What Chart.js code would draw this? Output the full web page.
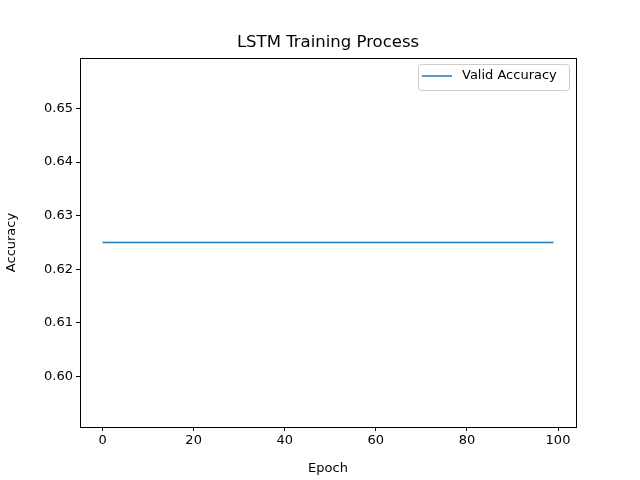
<!DOCTYPE html>
<html><head><script src="https://cdn.jsdelivr.net/npm/chart.js@4"></script>
<style>body{margin:0;background:#fff}</style></head>
<body><canvas id="c" width="640" height="480"></canvas>
<script>
// epochs 0..99
const epochs = [0,1,2,3,4,5,6,7,8,9,10,11,12,13,14,15,16,17,18,19,20,21,22,23,24,25,26,27,28,29,30,31,32,33,34,35,36,37,38,39,40,41,42,43,44,45,46,47,48,49,50,51,52,53,54,55,56,57,58,59,60,61,62,63,64,65,66,67,68,69,70,71,72,73,74,75,76,77,78,79,80,81,82,83,84,85,86,87,88,89,90,91,92,93,94,95,96,97,98,99];
const validAcc = [0.625,0.625,0.625,0.625,0.625,0.625,0.625,0.625,0.625,0.625,0.625,0.625,0.625,0.625,0.625,0.625,0.625,0.625,0.625,0.625,0.625,0.625,0.625,0.625,0.625,0.625,0.625,0.625,0.625,0.625,0.625,0.625,0.625,0.625,0.625,0.625,0.625,0.625,0.625,0.625,0.625,0.625,0.625,0.625,0.625,0.625,0.625,0.625,0.625,0.625,0.625,0.625,0.625,0.625,0.625,0.625,0.625,0.625,0.625,0.625,0.625,0.625,0.625,0.625,0.625,0.625,0.625,0.625,0.625,0.625,0.625,0.625,0.625,0.625,0.625,0.625,0.625,0.625,0.625,0.625,0.625,0.625,0.625,0.625,0.625,0.625,0.625,0.625,0.625,0.625,0.625,0.625,0.625,0.625,0.625,0.625,0.625,0.625,0.625,0.625];
const xTicks = [0,20,40,60,80,100];
const yTicks = [0.60,0.61,0.62,0.63,0.64,0.65];
const FONT = 'DejaVu Sans';

const frame = {
  id: 'frame',
  afterDraw(chart) {
    const {ctx, chartArea: a} = chart;
    ctx.save();
    ctx.strokeStyle = '#000'; ctx.lineWidth = 1;
    ctx.strokeRect(a.left + 0.5, a.top + 0.5, a.right - a.left, a.bottom - a.top);
    ctx.fillStyle = '#000'; ctx.font = '16.5px ' + FONT;
    ctx.textAlign = 'center'; ctx.textBaseline = 'middle';
    ctx.fillText('LSTM Training Process', (a.left + a.right) / 2, 43);
    // legend
    ctx.strokeStyle = '#ccc';
    ctx.fillStyle = '#fff';
    ctx.beginPath(); ctx.roundRect(418.5, 64.5, 151, 26, 3); ctx.fill(); ctx.stroke();
    ctx.strokeStyle = '#1f77b4'; ctx.lineWidth = 1.5;
    ctx.beginPath(); ctx.moveTo(422, 76); ctx.lineTo(452, 76); ctx.stroke();
    ctx.fillStyle = '#000'; ctx.font = '13px ' + FONT; ctx.textAlign = 'left';
    ctx.fillText('Valid Accuracy', 462, 76);
    ctx.restore();
  }
};

new Chart(document.getElementById('c'), {
  type: 'line',
  data: {
    labels: epochs,
    datasets: [{
      label: 'Valid Accuracy',
      data: epochs.map((e, i) => ({x: e, y: validAcc[i]})),
      borderColor: '#1f77b4', borderWidth: 1.5, pointRadius: 0, tension: 0
    }]
  },
  options: {
    responsive: false, animation: false, devicePixelRatio: 1,
    layout: {padding: {top: 58, right: 64, left: 0, bottom: 0}},
    plugins: {legend: {display: false}, tooltip: {enabled: false}},
    scales: {
      x: {
        type: 'linear', min: -4.95, max: 103.95,
        afterBuildTicks: s => { s.ticks = xTicks.map(v => ({value: v})); },
        afterFit: s => { s.height = 53; },
        grid: {drawOnChartArea: false, tickLength: 4, color: '#000'},
        border: {display: false},
        ticks: {color: '#000', font: {family: FONT, size: 13}, padding: 2, maxRotation: 0},
        title: {display: true, text: 'Epoch', color: '#000', font: {family: FONT, size: 13}, padding: {top: 2}}
      },
      y: {
        min: 0.5906, max: 0.6594,
        afterBuildTicks: s => { s.ticks = yTicks.map(v => ({value: v})); },
        afterFit: s => { s.width = 80; },
        grid: {drawOnChartArea: false, tickLength: 4, color: '#000'},
        border: {display: false},
        ticks: {color: '#000', font: {family: FONT, size: 13}, padding: 3, callback: v => v.toFixed(2)},
        title: {display: true, text: 'Accuracy', color: '#000', font: {family: FONT, size: 13}, padding: {bottom: 2}}
      }
    }
  },
  plugins: [frame]
});
</script></body></html>
